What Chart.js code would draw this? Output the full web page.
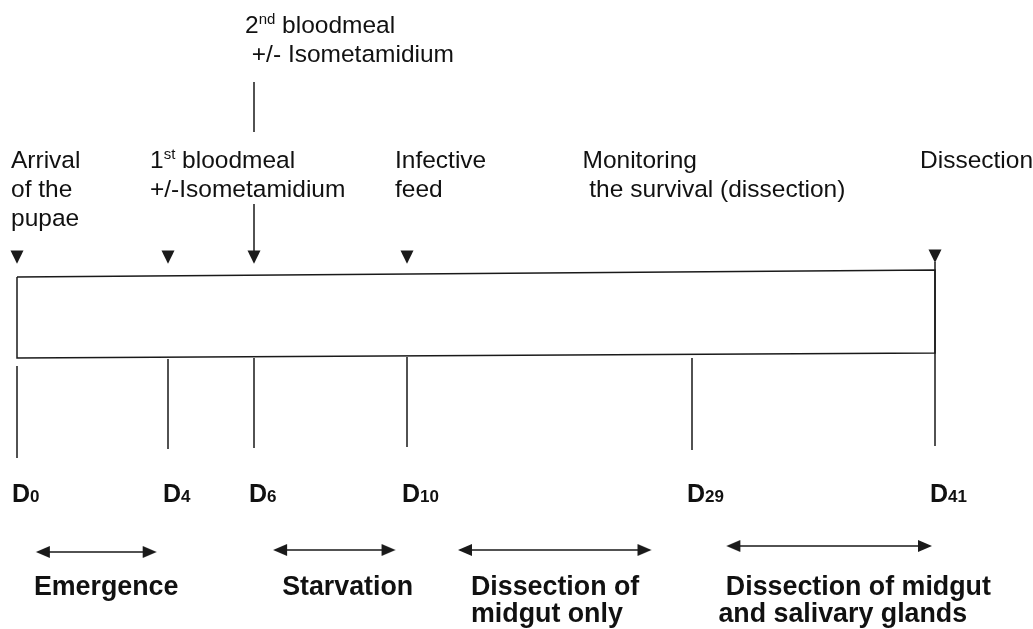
<!DOCTYPE html>
<html><head><meta charset="utf-8">
<script src="https://cdn.jsdelivr.net/npm/chart.js@4/dist/chart.umd.min.js"></script>
<style>html,body{margin:0;padding:0;background:#fff}#wrap{width:1033px;height:629px;position:relative}</style>
</head><body><div id="wrap"><canvas id="c"></canvas></div>
<script>
// ---------------- data (days of the experiment) ----------------
const milestoneDays   = [0, 4, 6, 10, 29, 41];
const milestoneLabels = ['D_{0}', 'D_{4}', 'D_{6}', 'D_{10}', 'D_{29}', 'D_{41}'];
const eventDays   = [0, 4, 10, 41];
const eventLabels = [['Arrival', 'of the', 'pupae'], ['1^{st} bloodmeal', '+/-Isometamidium'], ['Infective', 'feed'], ['Dissection']];
const bloodmeal2Day   = 6;
const bloodmeal2Label = ['2^{nd} bloodmeal', ' +/- Isometamidium'];
const monitoringDay   = 21.7;
const monitoringLabel = ['Monitoring', ' the survival (dissection)'];
const phaseNames = [['Emergence'], ['Starvation'], ['Dissection of', 'midgut only'], [' Dissection of midgut', 'and salivary glands']];
const phaseStart = [0.5, 6.5, 13.4, 30.7];
const phaseEnd   = [3.7, 9.7, 26.3, 40.85];

// ---------------- layout / style (not data) ----------------
const L = {
  rectTop: [277, 270], rectBot: [358, 353],
  tickTop: [366, 359, 358, 357, 358, 262], tickBot: [458, 449, 448, 447, 450, 446],
  triY: [257, 257, 257, 256, 257], bm2Line: [82, 132], bm1Line: [204, 251],
  phaseY: [552, 550, 550, 546],
  rowBase: [168, 197, 226], upBase: [33, 62], dBase: 502, phaseBase: [595, 622],
  eventDx: [-6, -18, -12, -15], bm2Dx: -9, dDx: -5, phaseDx: [-2, 9, 13, -8]
};
const INK = '#1a1a1a';
const FONT = '"Liberation Sans", Arial, sans-serif';

// piecewise schematic day axis
class PiecewiseScale extends Chart.LinearScale {
  getPixelForValue(v) {
    const a = this.options.anchors;
    let i = 0;
    while (i < a.length - 2 && v > a[i + 1][0]) i++;
    const [d0, f0] = a[i], [d1, f1] = a[i + 1];
    return this.left + (f0 + (v - d0) / (d1 - d0) * (f1 - f0)) * this.width;
  }
  getValueForPixel(p) {
    const a = this.options.anchors, f = (p - this.left) / this.width;
    let i = 0;
    while (i < a.length - 2 && f > a[i + 1][1]) i++;
    const [d0, f0] = a[i], [d1, f1] = a[i + 1];
    return d0 + (f - f0) / (f1 - f0) * (d1 - d0);
  }
}
PiecewiseScale.id = 'piecewise';
PiecewiseScale.defaults = {};
Chart.register(PiecewiseScale);

// marker images
function downTri() {
  const c = document.createElement('canvas'); c.width = 14; c.height = 14;
  const g = c.getContext('2d'); g.fillStyle = INK;
  g.beginPath(); g.moveTo(0.5, 0.5); g.lineTo(13.5, 0.5); g.lineTo(7, 13.8); g.closePath(); g.fill();
  return c;
}
function headRight() {
  const c = document.createElement('canvas'); c.width = 30; c.height = 14;
  const g = c.getContext('2d'); g.fillStyle = INK;
  g.beginPath(); g.moveTo(1, 1); g.lineTo(15, 7); g.lineTo(1, 13); g.closePath(); g.fill();
  return c;
}
const TRI = downTri(), HEAD = headRight();

// datasets
const lineDs = (data) => ({ data, showLine: true, borderColor: INK, borderWidth: 1.5, pointRadius: 0, tension: 0, spanGaps: false, clip: false });
const rectData = [
  { x: 0, y: L.rectTop[0] }, { x: 41, y: L.rectTop[1] }, { x: 41, y: L.rectBot[1] }, { x: 0, y: L.rectBot[0] }, { x: 0, y: L.rectTop[0] }
];
const tickData = [];
milestoneDays.forEach((d, i) => { tickData.push({ x: d, y: L.tickTop[i] }, { x: d, y: L.tickBot[i] }, { x: d, y: null }); });
const bmData = [
  { x: bloodmeal2Day, y: L.bm2Line[0] }, { x: bloodmeal2Day, y: L.bm2Line[1] }, { x: bloodmeal2Day, y: null },
  { x: bloodmeal2Day, y: L.bm1Line[0] }, { x: bloodmeal2Day, y: L.bm1Line[1] }
];
const triData = eventDays.concat([bloodmeal2Day]).map((d, i) => ({ x: d, y: L.triY[i] }));
const phaseLine = [], phaseHeads = [], headRot = [];
phaseStart.forEach((s, i) => {
  phaseLine.push({ x: s + 0.15, y: L.phaseY[i] }, { x: phaseEnd[i] - 0.15, y: L.phaseY[i] }, { x: s, y: null });
  phaseHeads.push({ x: s, y: L.phaseY[i] }, { x: phaseEnd[i], y: L.phaseY[i] });
  headRot.push(180, 0);
});

function rich(ctx, str, x, y, font, smallFont, supDy, subDy) {
  const re = /(\^|_)\{([^}]*)\}/g; let last = 0, m; const parts = [];
  while ((m = re.exec(str))) { if (m.index > last) parts.push([str.slice(last, m.index), 0]); parts.push([m[2], m[1] === '^' ? 1 : -1]); last = re.lastIndex; }
  if (last < str.length) parts.push([str.slice(last), 0]);
  let cx = x;
  for (const [t, k] of parts) {
    ctx.font = k === 0 ? font : smallFont;
    ctx.fillText(t, cx, y + (k === 1 ? -supDy : k === -1 ? subDy : 0));
    cx += ctx.measureText(t).width;
  }
}

const textPlugin = {
  id: 'texts',
  afterDraw(chart) {
    const ctx = chart.ctx, xs = chart.scales.x, ys = chart.scales.y;
    ctx.save(); ctx.fillStyle = '#111'; ctx.textAlign = 'left'; ctx.textBaseline = 'alphabetic';
    const nf = '24.5px ' + FONT, sf = '15px ' + FONT;
    eventLabels.forEach((lines, i) => {
      const x = xs.getPixelForValue(eventDays[i]) + L.eventDx[i];
      lines.forEach((t, j) => rich(ctx, t, x, ys.getPixelForValue(L.rowBase[j]), nf, sf, 9, 0));
    });
    monitoringLabel.forEach((t, j) => rich(ctx, t, xs.getPixelForValue(monitoringDay), ys.getPixelForValue(L.rowBase[j]), nf, sf, 9, 0));
    bloodmeal2Label.forEach((t, j) => rich(ctx, t, xs.getPixelForValue(bloodmeal2Day) + L.bm2Dx, ys.getPixelForValue(L.upBase[j]), nf, sf, 9, 0));
    milestoneLabels.forEach((t, i) => rich(ctx, t, xs.getPixelForValue(milestoneDays[i]) + L.dDx, ys.getPixelForValue(L.dBase), 'bold 25px ' + FONT, 'bold 17px ' + FONT, 0, 0));
    phaseNames.forEach((lines, i) => {
      const x = xs.getPixelForValue(phaseStart[i]) + L.phaseDx[i];
      lines.forEach((t, j) => rich(ctx, t, x, ys.getPixelForValue(L.phaseBase[j]), 'bold 26.8px ' + FONT, 'bold 16px ' + FONT, 0, 0));
    });
    ctx.restore();
  }
};

new Chart(document.getElementById('c'), {
  type: 'scatter',
  data: {
    datasets: [
      lineDs(rectData), lineDs(tickData), lineDs(bmData), lineDs(phaseLine),
      { data: triData, showLine: false, pointStyle: TRI, pointRadius: 7, clip: false },
      { data: phaseHeads, showLine: false, pointStyle: HEAD, pointRotation: headRot, pointRadius: 7, clip: false }
    ]
  },
  options: {
    responsive: true, maintainAspectRatio: false, animation: false,
    layout: { padding: 0, autoPadding: false },
    plugins: { legend: { display: false }, tooltip: { enabled: false } },
    events: [],
    scales: {
      x: { type: 'piecewise', min: -1, max: 42, display: false,
           anchors: [[0, 17 / 1033], [4, 168 / 1033], [6, 254 / 1033], [10, 407 / 1033], [29, 692 / 1033], [41, 935 / 1033]],
           ticks: { callback: v => v } },
      y: { type: 'linear', min: 0, max: 629, reverse: true, display: false }
    }
  },
  plugins: [textPlugin]
});
</script></body></html>
